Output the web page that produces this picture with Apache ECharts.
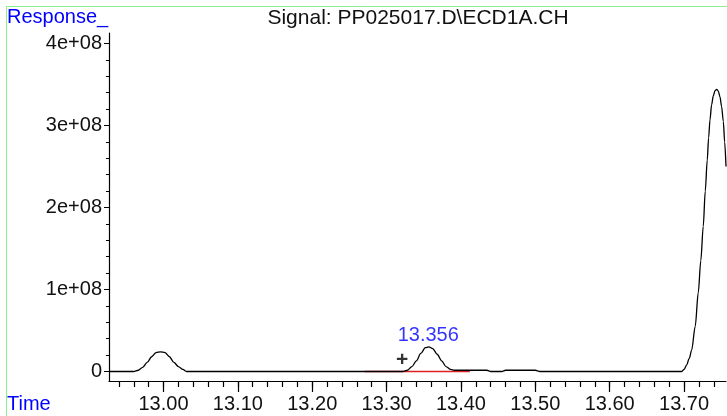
<!doctype html>
<html>
<head>
<meta charset="utf-8">
<title>Signal: PP025017.D\ECD1A.CH</title>
<script src="https://cdn.jsdelivr.net/npm/echarts@6/dist/echarts.min.js"></script>
<style>
  html, body { margin: 0; padding: 0; background: #fff; }
  #chart { width: 727px; height: 416px; }
</style>
</head>
<body>
<div id="chart"></div>
<script>
// chromatogram trace
var times = [12.927, 12.960, 12.966, 12.972, 12.978, 12.984, 12.990, 12.996, 13.002, 13.008, 13.014, 13.020, 13.026, 13.031,
             13.322, 13.328, 13.334, 13.340, 13.346, 13.352, 13.357, 13.362, 13.368, 13.374, 13.380, 13.386, 13.391,
             13.435, 13.440, 13.455, 13.460, 13.500, 13.506,
             13.697, 13.700, 13.7035, 13.707, 13.7102, 13.715, 13.7191, 13.7225, 13.7258, 13.7285, 13.7312, 13.733, 13.7349,
             13.737, 13.7393, 13.7416, 13.7439, 13.746, 13.7483, 13.7505, 13.7528, 13.7546, 13.7564];
var responses = [0, 0, 1.5e6, 5e6, 1.1e7, 1.8e7, 2.3e7, 2.4e7, 2.3e7, 1.8e7, 1.1e7, 6e6, 2.5e6, 0,
                 0, 1.5e6, 6e6, 1.3e7, 2.2e7, 2.9e7, 3.0e7, 2.8e7, 2.1e7, 1.3e7, 6e6, 2.5e6, 1.5e6,
                 1.5e6, 0, 0, 1.5e6, 1.5e6, 0,
                 0, 2.5e6, 8e6, 1.6e7, 2.6e7, 5.5e7, 9.6e7, 1.35e8, 1.77e8, 2.2e8, 2.58e8, 2.85e8, 3.07e8,
                 3.25e8, 3.36e8, 3.425e8, 3.44e8, 3.42e8, 3.35e8, 3.23e8, 3.05e8, 2.8e8, 2.5e8];

// integration baseline of the labelled peak
var baseTimes = [13.2705, 13.412];
var baseValues = [0, 0];

// peak annotation
var peakTime = 13.356;
var peakValue = 3.0e7;
var markTime = 13.321;
var markValue = 1.4e7;

// axis ticks
var xMajor = [13.0, 13.1, 13.2, 13.3, 13.4, 13.5, 13.6, 13.7];
var xMinor = [];
for (var t = 12.94; t < 13.756; t += 0.02) { xMinor.push(Math.round(t * 100) / 100); }
var yMajor = [0, 1e8, 2e8, 3e8, 4e8];
var yMinor = [];
for (var v = 0; v <= 4e8; v += 2e7) { yMinor.push(v); }
var yLabels = ['0', '1e+08', '2e+08', '3e+08', '4e+08'];

var xMin = 12.9267, xMax = 13.7564;
var yMin = -1.16e7, yMax = 4.128e8;
var font = 'Liberation Sans, Arial, sans-serif';

var trace = times.map(function (t, i) { return [t, responses[i]]; });
var baseline = baseTimes.map(function (t, i) { return [t, baseValues[i]]; });

var gridPos = { left: 109, top: 33, right: 1, bottom: 35 };

var option = {
  animation: false,
  grid: [
    Object.assign({}, gridPos),
    Object.assign({}, gridPos)
  ],
  xAxis: [
    {
      type: 'value', gridIndex: 0, min: xMin, max: xMax,
      splitLine: { show: false },
      axisLine: { show: true, onZero: false, lineStyle: { color: '#000', width: 1.2 } },
      axisTick: { show: true, length: 11, customValues: xMajor, lineStyle: { color: '#000', width: 1.2 } },
      axisLabel: {
        customValues: xMajor, margin: 13, color: '#111', fontSize: 20, fontFamily: font,
        formatter: function (v) { return v.toFixed(2); }
      }
    },
    {
      type: 'value', gridIndex: 1, min: xMin, max: xMax,
      splitLine: { show: false },
      axisLine: { show: false, onZero: false },
      axisTick: { show: true, length: 6, customValues: xMinor, lineStyle: { color: '#000', width: 1.2 } },
      axisLabel: { show: false }
    }
  ],
  yAxis: [
    {
      type: 'value', gridIndex: 0, min: yMin, max: yMax,
      splitLine: { show: false },
      axisLine: { show: true, onZero: false, lineStyle: { color: '#000', width: 1.2 } },
      axisTick: { show: true, length: 5, customValues: yMajor, lineStyle: { color: '#000' } },
      axisLabel: {
        customValues: yMajor, margin: 7, color: '#111', fontSize: 20, fontFamily: font,
        formatter: function (v) { return yLabels[yMajor.indexOf(v)]; }
      }
    },
    {
      type: 'value', gridIndex: 1, min: yMin, max: yMax,
      splitLine: { show: false },
      axisLine: { show: false, onZero: false },
      axisTick: { show: true, length: 3, customValues: yMinor, lineStyle: { color: '#000' } },
      axisLabel: { show: false }
    }
  ],
  graphic: [
    { type: 'rect', shape: { x: 6.5, y: 6.5, width: 800, height: 500 },
      style: { fill: 'none', stroke: '#8cee8c', lineWidth: 1 }, silent: true },
    { type: 'text', left: 7, top: 7,
      style: { text: 'Response_', fill: '#0000ff', font: '20px ' + font } },
    { type: 'text', x: 418, y: 8,
      style: { text: 'Signal: PP025017.D\\ECD1A.CH', fill: '#111', font: '21px ' + font, textAlign: 'center' } },
    { type: 'text', left: 7, top: 394,
      style: { text: 'Time', fill: '#0000ff', font: '20px ' + font } }
  ],
  series: [
    {
      type: 'line', xAxisIndex: 0, yAxisIndex: 0,
      data: baseline, showSymbol: false, z: 1,
      lineStyle: { color: '#e02020', width: 1.5 }
    },
    {
      type: 'line', xAxisIndex: 0, yAxisIndex: 0,
      data: trace, showSymbol: false, smooth: 0.3, smoothMonotone: 'x', z: 2,
      lineStyle: { color: '#000', width: 1.3 }
    },
    {
      type: 'scatter', xAxisIndex: 0, yAxisIndex: 0,
      data: [[peakTime, peakValue]], symbolSize: 0,
      label: { show: true, position: 'top', distance: 1, formatter: '13.356',
               color: '#0000ff', fontSize: 20, fontFamily: font }
    },
    {
      type: 'scatter', xAxisIndex: 0, yAxisIndex: 0,
      data: [[markTime, markValue]], symbolSize: 0,
      label: { show: true, position: 'inside', formatter: '+',
               color: '#000', fontSize: 21, fontWeight: 'bold', fontFamily: font }
    }
  ]
};

var myChart = echarts.init(document.getElementById('chart'));
myChart.setOption(option);
</script>
</body>
</html>
